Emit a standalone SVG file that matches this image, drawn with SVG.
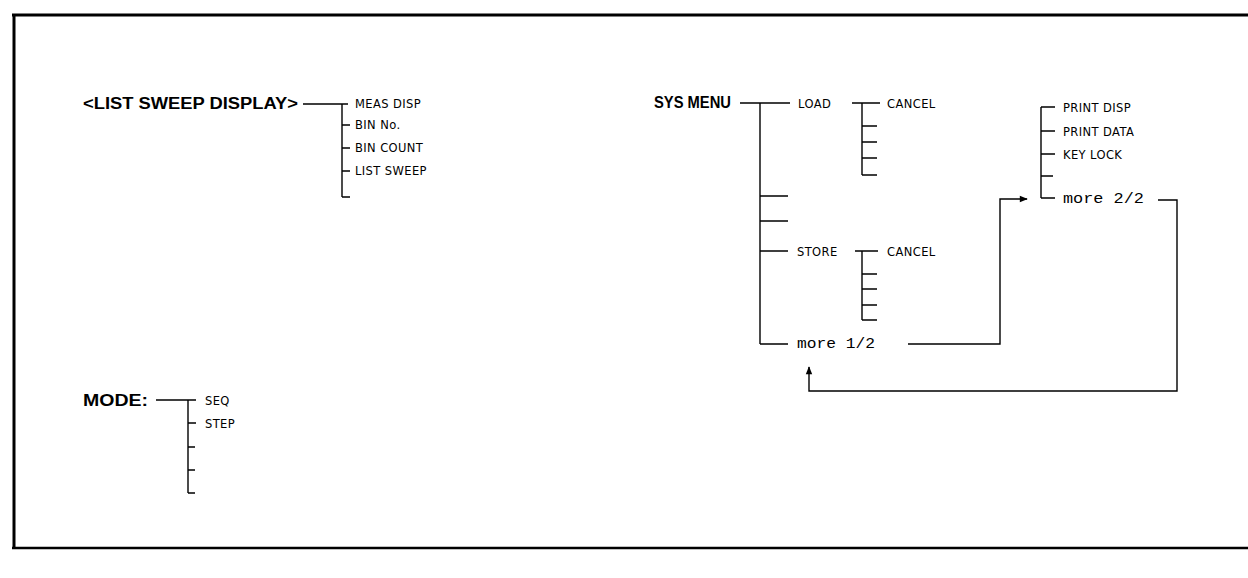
<svg xmlns="http://www.w3.org/2000/svg" width="1248" height="578" viewBox="0 0 1248 578">
<defs>
<marker id="ah" viewBox="0 0 10 10" refX="9" refY="5" markerWidth="11" markerHeight="8" markerUnits="userSpaceOnUse" orient="auto">
<path d="M0,1 L10,5 L0,9 Z" fill="#000"/>
</marker>
</defs>
<style>
.ln{stroke:#000;stroke-width:1.4;fill:none}
.fr{stroke:#000;fill:none}
.hd{font-family:"Liberation Sans",Arial,sans-serif;font-weight:bold;font-size:16px;fill:#000}
.lb{font-family:"DejaVu Sans","Liberation Sans",sans-serif;font-size:11.5px;letter-spacing:0.4px;fill:#000}
.mo{font-family:"Liberation Mono","DejaVu Sans Mono",monospace;font-size:14px;fill:#000}
</style>
<rect width="1248" height="578" fill="#fff"/>
<g id="frame">
<line class="fr" x1="12" y1="15" x2="1248" y2="15" stroke-width="3"/>
<line class="fr" x1="14" y1="14" x2="14" y2="549" stroke-width="3"/>
<line class="fr" x1="12" y1="548" x2="1248" y2="548" stroke-width="2.5"/>
</g>
<g id="list-sweep-display">
<text class="hd" x="83" y="109" textLength="215" lengthAdjust="spacingAndGlyphs">&lt;LIST SWEEP DISPLAY&gt;</text>
<text class="lb" x="355" y="108">MEAS DISP</text>
<text class="lb" x="355" y="129">BIN No.</text>
<text class="lb" x="355" y="152">BIN COUNT</text>
<text class="lb" x="355" y="175">LIST SWEEP</text>
</g>
<g id="sys-menu">
<text class="hd" x="654" y="108" textLength="77" lengthAdjust="spacingAndGlyphs">SYS MENU</text>
<text class="lb" x="798" y="108">LOAD</text>
<text class="lb" x="797" y="256">STORE</text>
<text class="mo" x="797" y="348" textLength="78" lengthAdjust="spacingAndGlyphs">more 1/2</text>
</g>
<g id="load-sub">
<text class="lb" x="887" y="108">CANCEL</text>
</g>
<g id="store-sub">
<text class="lb" x="887" y="256">CANCEL</text>
</g>
<g id="sys-menu-2">
<text class="lb" x="1063" y="112">PRINT DISP</text>
<text class="lb" x="1063" y="136">PRINT DATA</text>
<text class="lb" x="1063" y="159">KEY LOCK</text>
<text class="mo" x="1063" y="203" textLength="81" lengthAdjust="spacingAndGlyphs">more 2/2</text>
</g>
<g id="mode">
<text class="hd" x="83" y="406" textLength="65" lengthAdjust="spacingAndGlyphs">MODE:</text>
<text class="lb" x="205" y="405">SEQ</text>
<text class="lb" x="205" y="428">STEP</text>
</g>
<g id="connectors">
<path class="ln" d="M303,104 H348 M342,104 V197 M342,125 H350 M342,148 H350 M342,171 H350 M342,197 H350"/>
<path class="ln" d="M740,103 H790 M760,103 V344 M760,196 H788 M760,221 H788 M760,251 H788 M760,344 H788"/>
<path class="ln" d="M852,103 H880 M862,103 V175 M862,126 H877 M862,142 H877 M862,158 H877 M862,175 H877"/>
<path class="ln" d="M855,251 H878 M862,251 V320 M862,274 H877 M862,289 H877 M862,305 H877 M862,320 H877"/>
<path class="ln" d="M1041,107 H1055 M1041,107 V198 M1041,131 H1055 M1041,154 H1055 M1041,176 H1053 M1041,198 H1055"/>
<path class="ln" d="M908,344 H1000 V199 H1027" marker-end="url(#ah)"/>
<path class="ln" d="M1158,200 H1177 V391 H809 V367" marker-end="url(#ah)"/>
<path class="ln" d="M156,400 H196 M188,400 V493 M188,423 H196 M188,447 H195 M188,470 H195 M188,493 H195"/>
</g>
</svg>
